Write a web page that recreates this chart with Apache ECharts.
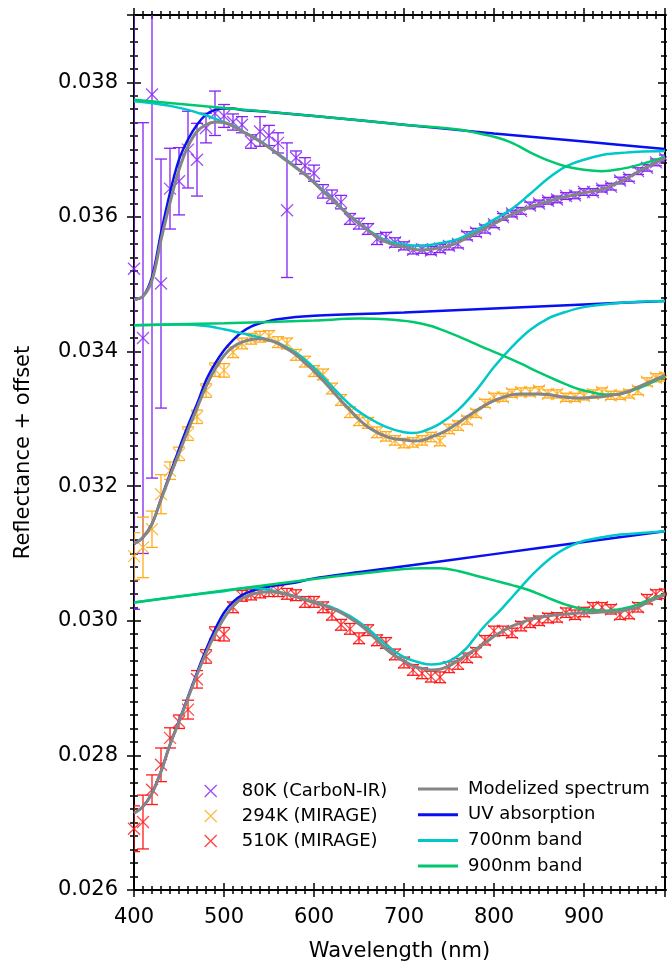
<!DOCTYPE html>
<html>
<head>
<meta charset="utf-8">
<script src="https://cdn.jsdelivr.net/npm/echarts@6/dist/echarts.min.js"></script>
<style>
html,body{margin:0;padding:0;background:#fff;}
#chart{width:667px;height:967px;}
</style>
</head>
<body>
<div id="chart"></div>
<script>
// ---- data (wavelength in nm, reflectance + offset) ----
const wl = [400,410,420,430,440,450,460,470,480,490,500,510,520,530,540,550,560,570,580,590,
600,610,620,630,640,650,660,670,680,690,700,710,720,730,740,750,760,770,780,790,
800,810,820,830,840,850,860,870,880,890,900,910,920,930,940,950,960,970,980,990];

const r80 = [0.03523,0.03420,0.03782,0.03501,0.03642,0.03653,0.03700,0.03685,0.03732,0.03754,
0.03750,0.03741,0.03737,0.03712,0.03727,0.03721,0.03710,0.03610,0.03688,0.03676,
0.03665,0.03638,0.03630,0.03622,0.03597,0.03590,0.03582,0.03567,0.03570,0.03562,
0.03557,0.03551,0.03552,0.03550,0.03553,0.03557,0.03560,0.03572,0.03577,0.03582,
0.03589,0.03600,0.03605,0.03609,0.03617,0.03620,0.03624,0.03626,0.03631,0.03632,
0.03637,0.03637,0.03642,0.03645,0.03654,0.03658,0.03668,0.03673,0.03681,0.03687];
const e80 = [0.00506,0.0032,0.0057,0.00185,0.0006,0.0005,0.00057,0.00054,0.00022,0.00033,
0.00017,0.00012,0.00012,0.0001,0.00022,0.00015,0.00015,0.001,0.0001,0.00012,
0.00012,0.0001,0.0001,0.0001,0.00008,0.00008,0.00008,0.00008,0.00007,0.00007,
0.00006,0.00006,0.00006,0.00006,0.00006,0.00006,0.00006,0.00006,0.00006,0.00006,
0.00005,0.00005,0.00005,0.00005,0.00005,0.00005,0.00005,0.00005,0.00005,0.00005,
0.00005,0.00005,0.00005,0.00005,0.00005,0.00005,0.00005,0.00005,0.00005,0.00005];

const r294 = [0.03096,0.03109,0.03136,0.03188,0.03223,0.03248,0.03278,0.03303,0.03342,0.03373,
0.03372,0.03399,0.03412,0.03419,0.03422,0.03423,0.03414,0.03412,0.03395,0.03385,
0.03371,0.03366,0.03345,0.03328,0.03310,0.03298,0.03294,0.03280,0.03274,0.03268,
0.03264,0.03265,0.03268,0.03273,0.03267,0.03285,0.03290,0.03298,0.03308,0.03323,
0.03332,0.03332,0.03338,0.03340,0.03340,0.03342,0.03337,0.03337,0.03332,0.03332,
0.03334,0.03337,0.03340,0.03335,0.03335,0.03337,0.03342,0.03355,0.03361,0.03362];
const e294 = [0.00035,0.00045,0.00027,0.00029,0.00013,0.0001,0.0001,0.0001,0.0001,0.0001,
0.0001,0.00008,0.00008,0.00008,0.00008,0.00008,0.00008,0.00008,0.00008,0.00008,
0.00008,0.00008,0.00008,0.00008,0.00008,0.00008,0.00008,0.00008,0.00007,0.00007,
0.00007,0.00007,0.00007,0.00007,0.00007,0.00007,0.00007,0.00006,0.00006,0.00006,
0.00006,0.00006,0.00006,0.00006,0.00006,0.00006,0.00006,0.00006,0.00006,0.00006,
0.00006,0.00006,0.00006,0.00006,0.00006,0.00006,0.00006,0.00006,0.00006,0.00006];

const r510 = [0.02691,0.02701,0.02749,0.02786,0.02826,0.02850,0.02868,0.02913,0.02947,0.02981,
0.02980,0.03020,0.03037,0.03039,0.03042,0.03044,0.03044,0.03040,0.03038,0.03028,
0.03028,0.03020,0.03009,0.02994,0.02988,0.02974,0.02986,0.02971,0.02967,0.02950,
0.02938,0.02927,0.02922,0.02917,0.02916,0.02931,0.02936,0.02945,0.02953,0.02971,
0.02985,0.02985,0.02982,0.02992,0.02997,0.03000,0.03004,0.03005,0.03012,0.03009,
0.03013,0.03020,0.03020,0.03017,0.03009,0.03010,0.03020,0.03032,0.03039,0.03040];
const e510 = [0.00034,0.0004,0.00022,0.00025,0.00015,0.0001,0.00014,0.00013,0.0001,0.0001,
0.0001,0.00008,0.00008,0.00008,0.00008,0.00008,0.00008,0.00008,0.00008,0.00008,
0.00008,0.00008,0.00008,0.00008,0.00008,0.00008,0.00008,0.00008,0.00008,0.00008,
0.00008,0.00008,0.00008,0.00008,0.00008,0.00008,0.00008,0.00007,0.00007,0.00007,
0.00007,0.00007,0.00007,0.00007,0.00007,0.00007,0.00007,0.00007,0.00007,0.00007,
0.00007,0.00007,0.00007,0.00007,0.00007,0.00007,0.00007,0.00007,0.00007,0.00007];

// modelized spectra (on wl grid)
const model80 = [0.03477,0.03482,0.03506,0.03566,0.03621,0.03670,0.03705,0.03727,0.03737,0.03741,
0.03740,0.03735,0.03727,0.03720,0.03712,0.03703,0.03693,0.03683,0.03673,0.03663,
0.03651,0.03638,0.03626,0.03613,0.03601,0.03590,0.03580,0.03570,0.03563,0.03558,
0.03556,0.03552,0.03551,0.03552,0.03554,0.03557,0.03562,0.03569,0.03576,0.03583,
0.03590,0.03597,0.03604,0.03610,0.03615,0.03619,0.03623,0.03627,0.03630,0.03633,
0.03636,0.03638,0.03641,0.03646,0.03652,0.03659,0.03667,0.03674,0.03681,0.03687];
const model294 = [0.03114,0.03124,0.03144,0.03180,0.03215,0.03249,0.03283,0.03316,0.03348,0.03374,
0.03394,0.03407,0.03414,0.03418,0.03419,0.03417,0.03412,0.03404,0.03395,0.03383,
0.03371,0.03357,0.03342,0.03327,0.03313,0.03299,0.03288,0.03280,0.03274,0.03270,
0.03269,0.03267,0.03268,0.03273,0.03278,0.03285,0.03294,0.03303,0.03312,0.03320,
0.03327,0.03332,0.03336,0.03337,0.03337,0.03337,0.03336,0.03334,0.03332,0.03331,
0.03331,0.03332,0.03333,0.03335,0.03337,0.03341,0.03347,0.03353,0.03359,0.03365];
const model510 = [0.02714,0.02724,0.02744,0.02776,0.02816,0.02850,0.02885,0.02920,0.02952,0.02980,
0.03004,0.03022,0.03033,0.03039,0.03042,0.03043,0.03042,0.03039,0.03036,0.03031,
0.03027,0.03023,0.03018,0.03012,0.03004,0.02995,0.02984,0.02971,0.02958,0.02948,
0.02940,0.02933,0.02929,0.02927,0.02928,0.02933,0.02941,0.02950,0.02958,0.02967,
0.02977,0.02985,0.02992,0.02997,0.03002,0.03005,0.03007,0.03009,0.03010,0.03011,
0.03012,0.03012,0.03013,0.03013,0.03014,0.03017,0.03020,0.03027,0.03033,0.03039];

// UV absorption
const uvWl80 = [400,410,420,430,440,450,460,470,480,490,500,510,520,550,600,700,800,900,990];
const uv80 = [0.03477,0.03482,0.03511,0.03576,0.03636,0.03685,0.03715,0.03737,0.03752,0.03759,0.03761,0.03761,0.03759,0.03756,0.03750,0.03737,0.03724,0.03712,0.03701];
const uvWl294 = [400,410,420,430,440,450,460,470,480,490,500,510,520,530,540,560,600,700,800,900,990];
const uv294 = [0.03114,0.03124,0.03144,0.03181,0.03218,0.03255,0.03290,0.03322,0.03357,0.03382,0.03402,0.03417,0.03429,0.03437,0.03442,0.03448,0.03453,0.03458,0.03464,0.03470,0.03475];
const uvWl510 = [400,410,420,430,440,450,460,470,480,490,500,510,520,530,540,550,560,580,600,700,800,900,990];
const uv510 = [0.02714,0.02724,0.02744,0.02776,0.02816,0.02851,0.02887,0.02923,0.02957,0.02987,0.03012,0.03028,0.03038,0.03044,0.03048,0.03051,0.03053,0.03057,0.03063,0.03081,0.03099,0.03117,0.03133];

// 700nm band
const b7Wl80 = [400,420,440,460,470,480,490,500,510,520,540,560,580,600,620,640,660,680,700,720,740,760,780,800,820,840,860,880,900,920,940,960,990];
const b780 = [0.03772,0.03769,0.03765,0.03759,0.03755,0.03751,0.03746,0.03741,0.03736,0.03728,0.03713,0.03694,0.03674,0.03652,0.03627,0.03602,0.03581,0.03565,0.03559,0.03557,0.03561,0.03567,0.03580,0.03596,0.03612,0.03634,0.03657,0.03675,0.03685,0.03692,0.03695,0.03697,0.03698];
const b7Wl294 = [400,450,480,500,520,540,560,580,600,620,640,660,680,700,710,720,740,760,780,800,820,840,860,880,900,930,960,990];
const b7294 = [0.03439,0.03440,0.03438,0.03433,0.03427,0.03421,0.03413,0.03398,0.03376,0.03348,0.03321,0.03302,0.03288,0.03280,0.03279,0.03281,0.03293,0.03313,0.03342,0.03377,0.03407,0.03432,0.03449,0.03459,0.03466,0.03471,0.03474,0.03475];
const b7Wl510 = [400,450,500,520,530,540,550,560,570,580,590,600,620,640,660,680,700,720,730,740,750,760,770,780,790,800,810,820,830,840,850,860,870,880,890,900,920,940,960,990];
const b7510 = [0.03027,0.03036,0.03044,0.03048,0.03049,0.03048,0.03046,0.03043,0.03040,0.03036,0.03032,0.03028,0.03020,0.03007,0.02988,0.02964,0.02946,0.02937,0.02935,0.02936,0.02940,0.02948,0.02960,0.02977,0.02993,0.03006,0.03020,0.03035,0.03050,0.03065,0.03078,0.03090,0.03100,0.03108,0.03114,0.03119,0.03124,0.03128,0.03130,0.03133];

// 900nm band
const b9Wl80 = [400,500,600,700,760,780,800,820,840,860,880,900,920,940,960,980,990];
const b980 = [0.03774,0.03762,0.03750,0.03737,0.03730,0.03725,0.03719,0.03710,0.03696,0.03684,0.03675,0.03670,0.03668,0.03671,0.03677,0.03685,0.03689];
const b9Wl294 = [400,500,600,650,680,710,730,750,770,790,810,830,850,870,890,910,925,940,960,975,990];
const b9294 = [0.03439,0.03442,0.03446,0.03449,0.03448,0.03444,0.03438,0.03428,0.03417,0.03405,0.03394,0.03382,0.03369,0.03357,0.03346,0.03339,0.03336,0.03337,0.03345,0.03354,0.03363];
const b9Wl510 = [400,500,600,650,700,720,740,760,780,800,820,840,860,880,900,925,950,970,990];
const b9510 = [0.03027,0.03045,0.03062,0.03070,0.03077,0.03078,0.03078,0.03074,0.03067,0.03060,0.03053,0.03045,0.03034,0.03024,0.03017,0.03015,0.03020,0.03030,0.03040];

const xTickLabels = [400,500,600,700,800,900];
const yTickLabels = [0.026,0.028,0.030,0.032,0.034,0.036,0.038];

// ---- styles ----
const FONT = 'DejaVu Sans';
const C80 = '#8424f5', C294 = '#ffac1c', C510 = '#ff1a1a';
const CGRAY = '#858585', CBLUE = '#0810f2', CCYAN = '#00c8c8', CGREEN = '#00c86e';
const XPATH = 'path://M0,0L10,10M10,0L0,10';

const pairs = (xs, ys) => xs.map((x, i) => [x, ys[i]]);
const triples = (xs, ys, es) => xs.map((x, i) => [x, ys[i], es[i]]);

function xAxisDef(pos, inside, len, interval, main) {
  return {
    type: 'value', position: pos, min: 400, max: 990, interval: interval,
    axisLine: {show: main, onZero: false, lineStyle: {color: '#000', width: 2}},
    axisTick: {show: true, inside: inside, length: len, lineStyle: {color: '#000', width: 1.5}},
    axisLabel: {show: main && pos === 'bottom', color: '#000', fontFamily: FONT, fontSize: 21, margin: 17,
      showMaxLabel: false,
      formatter: v => (xTickLabels.indexOf(v) >= 0 ? String(v) : '')},
    splitLine: {show: false},
    name: (main && pos === 'bottom') ? 'Wavelength (nm)' : '',
    nameLocation: 'middle', nameGap: 51,
    nameTextStyle: {color: '#000', fontFamily: FONT, fontSize: 21}
  };
}
function yAxisDef(pos, inside, len, interval, main) {
  return {
    type: 'value', position: pos, min: 0.026, max: 0.039, interval: interval,
    axisLine: {show: main, onZero: false, lineStyle: {color: '#000', width: 2}},
    axisTick: {show: true, inside: inside, length: len, lineStyle: {color: '#000', width: 1.5}},
    axisLabel: {show: main && pos === 'left', color: '#000', fontFamily: FONT, fontSize: 21, margin: 16,
      showMaxLabel: false,
      formatter: v => {
        const hit = yTickLabels.find(t => Math.abs(t - v) < 1e-9);
        return hit !== undefined ? hit.toFixed(3) : '';
      }},
    splitLine: {show: false},
    name: (main && pos === 'left') ? 'Reflectance + offset' : '',
    nameLocation: 'middle', nameGap: 100, nameRotate: 90,
    nameTextStyle: {color: '#000', fontFamily: FONT, fontSize: 21}
  };
}

const xAxes = [
  xAxisDef('bottom', true, 7, 100, true),
  xAxisDef('bottom', false, 7, 100, false),
  xAxisDef('bottom', true, 4, 10, false),
  xAxisDef('bottom', false, 4, 10, false),
  xAxisDef('top', true, 7, 100, true),
  xAxisDef('top', false, 7, 100, false),
  xAxisDef('top', true, 4, 10, false),
  xAxisDef('top', false, 4, 10, false)
];
const yAxes = [
  yAxisDef('left', true, 7, 0.002, true),
  yAxisDef('left', false, 7, 0.002, false),
  yAxisDef('left', true, 4, 0.0002, false),
  yAxisDef('left', false, 4, 0.0002, false),
  yAxisDef('right', true, 7, 0.002, true),
  yAxisDef('right', false, 7, 0.002, false),
  yAxisDef('right', true, 4, 0.0002, false),
  yAxisDef('right', false, 4, 0.0002, false)
];

function errSeries(ys, es, color) {
  return {
    type: 'custom', xAxisIndex: 0, yAxisIndex: 0, clip: true, silent: true, z: 2,
    data: triples(wl, ys, es),
    encode: {x: 0, y: 1},
    renderItem: function (params, api) {
      const x = api.value(0), y = api.value(1), e = api.value(2);
      if (!(e > 0)) return null;
      const top = api.coord([x, y + e]);
      const bot = api.coord([x, y - e]);
      const h = 6;
      const st = {stroke: color, lineWidth: 1.3};
      return {type: 'group', children: [
        {type: 'line', shape: {x1: top[0], y1: top[1], x2: bot[0], y2: bot[1]}, style: st},
        {type: 'line', shape: {x1: top[0] - h, y1: top[1], x2: top[0] + h, y2: top[1]}, style: st},
        {type: 'line', shape: {x1: bot[0] - h, y1: bot[1], x2: bot[0] + h, y2: bot[1]}, style: st}
      ]};
    }
  };
}
function markSeries(name, ys, color) {
  return {
    name: name, type: 'scatter', xAxisIndex: 0, yAxisIndex: 0, silent: true, z: 3,
    symbol: XPATH, symbolSize: 12, color: color,
    itemStyle: {color: 'rgba(0,0,0,0)', borderColor: color, borderWidth: 1.3},
    data: pairs(wl, ys)
  };
}
function lineSeries(name, xs, ys, color, width, z) {
  return {
    name: name, type: 'line', xAxisIndex: 0, yAxisIndex: 0, silent: true, z: z,
    showSymbol: false, symbol: 'none', smooth: 0.35, color: color,
    lineStyle: {color: color, width: width},
    data: pairs(xs, ys)
  };
}

const series = [
  errSeries(r80, e80, C80), markSeries('80K (CarboN-IR)', r80, C80),
  errSeries(r294, e294, C294), markSeries('294K (MIRAGE)', r294, C294),
  errSeries(r510, e510, C510), markSeries('510K (MIRAGE)', r510, C510),
  lineSeries('UV absorption', uvWl80, uv80, CBLUE, 2.5, 4),
  lineSeries('UV absorption', uvWl294, uv294, CBLUE, 2.5, 4),
  lineSeries('UV absorption', uvWl510, uv510, CBLUE, 2.5, 4),
  lineSeries('700nm band', b7Wl80, b780, CCYAN, 2.5, 5),
  lineSeries('700nm band', b7Wl294, b7294, CCYAN, 2.5, 5),
  lineSeries('700nm band', b7Wl510, b7510, CCYAN, 2.5, 5),
  lineSeries('900nm band', b9Wl80, b980, CGREEN, 2.5, 5),
  lineSeries('900nm band', b9Wl294, b9294, CGREEN, 2.5, 5),
  lineSeries('900nm band', b9Wl510, b9510, CGREEN, 2.5, 5),
  lineSeries('Modelized spectrum', wl, model80, CGRAY, 3, 6),
  lineSeries('Modelized spectrum', wl, model294, CGRAY, 3, 6),
  lineSeries('Modelized spectrum', wl, model510, CGRAY, 3, 6)
];

const legendText = {color: '#000', fontFamily: FONT, fontSize: 18, lineHeight: 20};
const option = {
  animation: false,
  backgroundColor: '#fff',
  grid: {left: 134, right: 2, top: 15, bottom: 77, containLabel: false},
  xAxis: xAxes,
  yAxis: yAxes,
  legend: [
    {
      orient: 'vertical', left: 204, top: 781, padding: 0, itemGap: 5,
      itemWidth: 12, itemHeight: 12, selectedMode: false,
      textStyle: Object.assign({padding: [0, 0, 0, 20]}, legendText),
      data: [
        {name: '80K (CarboN-IR)', icon: XPATH, itemStyle: {color: 'rgba(0,0,0,0)', borderColor: C80, borderWidth: 1.4}},
        {name: '294K (MIRAGE)', icon: XPATH, itemStyle: {color: 'rgba(0,0,0,0)', borderColor: C294, borderWidth: 1.4}},
        {name: '510K (MIRAGE)', icon: XPATH, itemStyle: {color: 'rgba(0,0,0,0)', borderColor: C510, borderWidth: 1.4}}
      ]
    },
    {
      orient: 'vertical', left: 418, top: 779, padding: 0, itemGap: 5.7,
      itemWidth: 40, itemHeight: 3, selectedMode: false,
      textStyle: Object.assign({padding: [0, 0, 0, 5]}, legendText),
      data: [
        {name: 'Modelized spectrum', icon: 'rect', itemStyle: {color: CGRAY}},
        {name: 'UV absorption', icon: 'rect', itemStyle: {color: CBLUE}},
        {name: '700nm band', icon: 'rect', itemStyle: {color: CCYAN}},
        {name: '900nm band', icon: 'rect', itemStyle: {color: CGREEN}}
      ]
    }
  ],
  series: series
};

const chart = echarts.init(document.getElementById('chart'), null, {renderer: 'canvas'});
chart.setOption(option);
</script>
</body>
</html>
